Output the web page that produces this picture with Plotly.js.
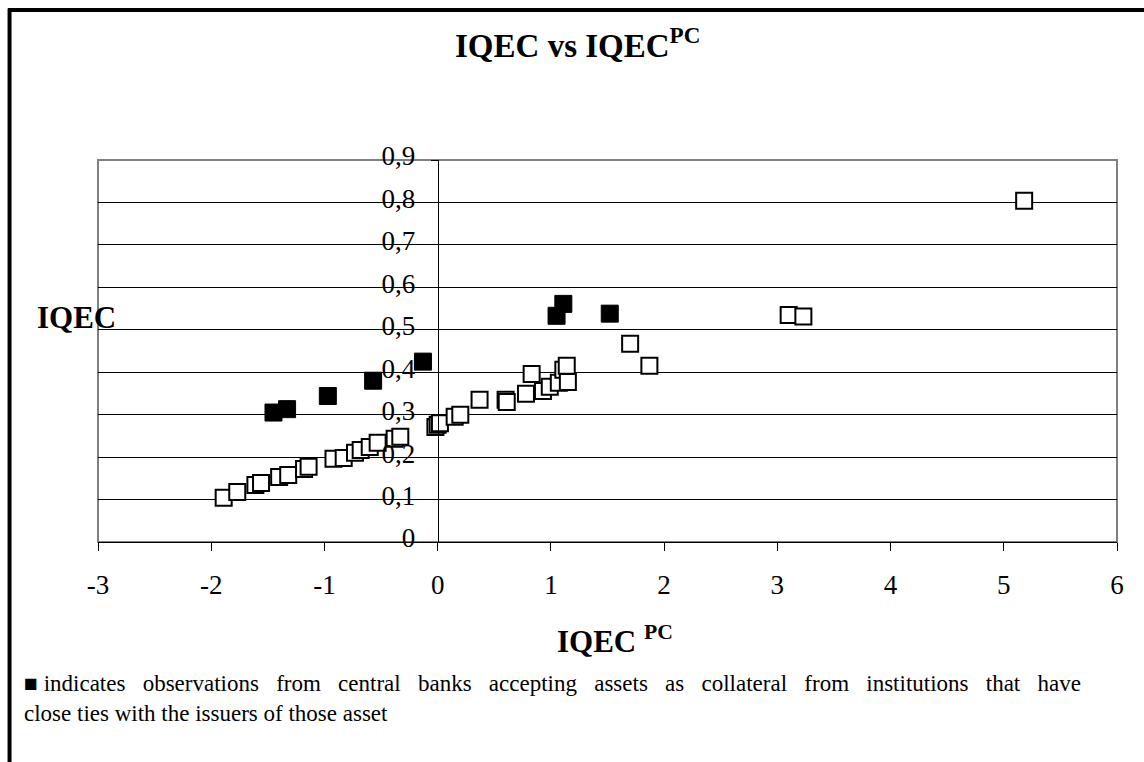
<!DOCTYPE html>
<html>
<head>
<meta charset="utf-8">
<script src="https://cdn.plot.ly/plotly-3.0.1.min.js"></script>
<style>
html,body{margin:0;padding:0;background:#fff;}
#chart{width:1144px;height:762px;}
</style>
</head>
<body>
<div id="chart"></div>
<script>
// Data
var closedX = [-1.45, -1.33, -0.97, -0.57, -0.13, 1.05, 1.11, 1.52];
var closedY = [0.305, 0.313, 0.344, 0.380, 0.425, 0.533, 0.561, 0.538];

var openX = [-1.89, -1.77, -1.61, -1.56, -1.40, -1.32, -1.18, -1.14, -0.92, -0.83, -0.73, -0.68, -0.60, -0.53, -0.38, -0.33, -0.02, 0.00, 0.02, 0.15, 0.20, 0.37, 0.60, 0.61, 0.78, 0.83, 0.93, 0.99, 1.07, 1.11, 1.14, 1.15, 1.70, 1.87, 3.10, 3.23, 5.18];
var openY = [0.104, 0.118, 0.134, 0.139, 0.153, 0.158, 0.172, 0.177, 0.196, 0.198, 0.210, 0.217, 0.224, 0.234, 0.243, 0.248, 0.271, 0.276, 0.280, 0.295, 0.300, 0.335, 0.335, 0.330, 0.349, 0.396, 0.356, 0.366, 0.375, 0.406, 0.415, 0.377, 0.467, 0.415, 0.535, 0.531, 0.804];

// Tick values / labels
var xTickVals = [-3, -2, -1, 0, 1, 2, 3, 4, 5, 6];
var xTickText = ["-3", "-2", "-1", "0", "1", "2", "3", "4", "5", "6"];
var yTickVals = [0, 0.1, 0.2, 0.3, 0.4, 0.5, 0.6, 0.7, 0.8, 0.9];
var yTickText = ["0", "0,1", "0,2", "0,3", "0,4", "0,5", "0,6", "0,7", "0,8", "0,9"];

var titleText = "<b>IQEC vs IQEC<sup>PC</sup></b>";
var xTitleText = "<b>IQEC <sup>PC</sup></b>";
var yTitleText = "<b>IQEC</b>";
var noteLine1Words = ["indicates", "observations", "from", "central", "banks", "accepting", "assets", "as", "collateral", "from", "institutions", "that", "have"];
var noteLine2 = "close ties with the issuers of those asset";

// first line of the note is justified in the reference: widen the word gaps evenly
var NB = "\u00a0";
var line1 = "■ " + noteLine1Words.join(" " + NB + NB);
var noteText = line1 + "<br>" + noteLine2;

var serif = "Liberation Serif";

var traces = [
  {
    x: openX, y: openY, type: "scatter", mode: "markers",
    marker: {symbol: "square", size: 16, color: "#ffffff", line: {color: "#000000", width: 2}},
    hoverinfo: "x+y", showlegend: false
  },
  {
    x: closedX, y: closedY, type: "scatter", mode: "markers",
    marker: {symbol: "square", size: 17, color: "#000000", line: {color: "#000000", width: 1}},
    hoverinfo: "x+y", showlegend: false
  }
];

var layout = {
  width: 1144, height: 762,
  margin: {l: 98, r: 27, t: 160, b: 220, pad: 0},
  paper_bgcolor: "#ffffff", plot_bgcolor: "#ffffff",
  separators: ", ",
  font: {family: serif, color: "#000000", size: 22},
  title: {
    text: titleText,
    font: {family: serif, size: 33, color: "#000000"},
    xref: "container", x: 0.505, xanchor: "center",
    yref: "container", y: 0.941, yanchor: "middle"
  },
  xaxis: {
    range: [-3, 6],
    tickmode: "array", tickvals: xTickVals, ticktext: xTickText,
    showgrid: false, zeroline: false,
    showline: true, linecolor: "#000000", linewidth: 1,
    ticks: "outside", ticklen: 8, tickcolor: "#000000", tickwidth: 1,
    ticklabelstandoff: 11,
    tickfont: {family: serif, size: 27, color: "#000000"},
    fixedrange: true
  },
  yaxis: {
    range: [0, 0.9],
    tickmode: "array", tickvals: yTickVals, ticktext: yTickText,
    anchor: "free", position: 1/3,
    showgrid: true, gridcolor: "#000000", gridwidth: 1,
    zeroline: false,
    showline: true, linecolor: "#000000", linewidth: 1,
    ticks: "outside", ticklen: 7, tickcolor: "#000000", tickwidth: 1,
    ticklabelstandoff: 10,
    ticklabelshift: -4,
    tickfont: {family: serif, size: 27, color: "#000000"},
    fixedrange: true
  },
  shapes: [
    {type: "rect", xref: "paper", yref: "paper", x0: 0, x1: 1, y0: 0, y1: 1,
     line: {color: "#808080", width: 2}, layer: "below"},
    {type: "line", xref: "paper", yref: "paper", x0: -0.0883, x1: 1.03, y0: 1.3927, y1: 1.3927,
     line: {color: "#000000", width: 4}},
    {type: "line", xref: "paper", yref: "paper", x0: -0.0868, x1: -0.0868, y0: 1.3966, y1: -0.6,
     line: {color: "#000000", width: 4}}
  ],
  annotations: [
    {text: yTitleText, xref: "paper", yref: "paper", x: -0.0618, y: 0.589,
     xanchor: "left", yanchor: "middle", showarrow: false,
     font: {family: serif, size: 31, color: "#000000"}},
    {text: xTitleText, xref: "paper", yref: "paper", x: 0.507, y: -0.2565,
     xanchor: "center", yanchor: "middle", showarrow: false,
     font: {family: serif, size: 31, color: "#000000"}},
    {text: noteText, xref: "paper", yref: "paper", x: -0.0746, y: -0.3325,
     xanchor: "left", yanchor: "top", align: "left", showarrow: false,
     font: {family: serif, size: 23, color: "#000000"}}
  ]
};

Plotly.newPlot("chart", traces, layout, {displayModeBar: false, staticPlot: true});
</script>
</body>
</html>
